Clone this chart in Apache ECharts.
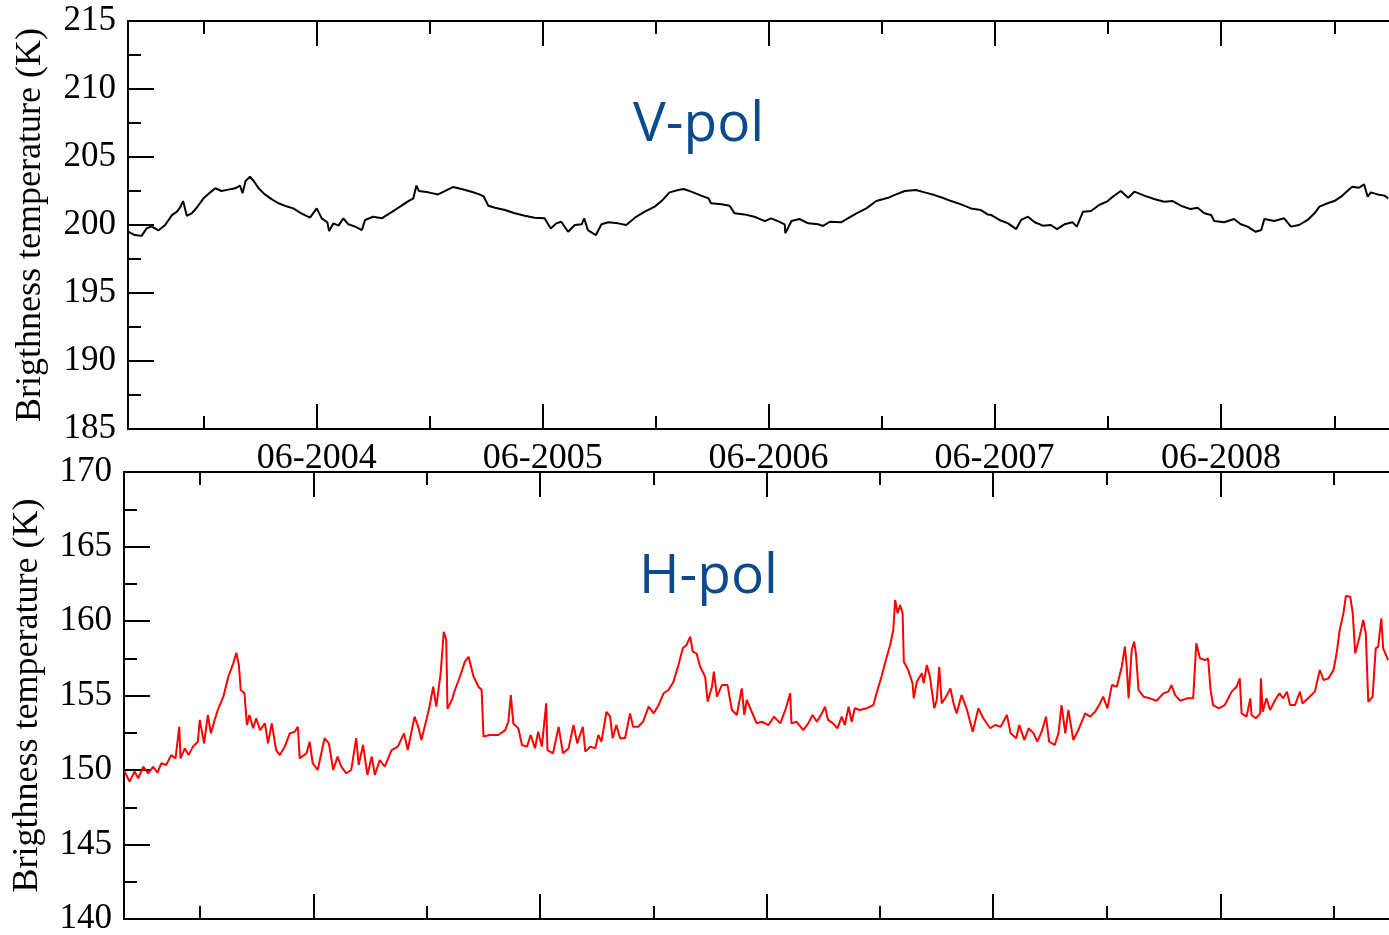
<!DOCTYPE html>
<html>
<head>
<meta charset="utf-8">
<title>Brightness temperature V-pol / H-pol</title>
<script src="https://cdn.jsdelivr.net/npm/echarts@6/dist/echarts.min.js"></script>
<style>
html, body { margin: 0; padding: 0; background: #fff; }
#chart { width: 1389px; height: 935px; }
</style>
</head>
<body>
<div id="chart"></div>
<script>
// x values are days counted from 2003-08-01 (left edge of both panels)
const startDate = Date.UTC(2003, 7, 1)
const endDate = Date.UTC(2009, 2, 1)

const majorTicks = ['2004-06', '2005-06', '2006-06', '2007-06', '2008-06']
const minorTicks = ['2003-12', '2004-12', '2005-12', '2006-12', '2007-12', '2008-12']

const yName = 'Brigthness temperature (K)'

// V-pol (top panel)
const vDays = [1, 11, 22, 30, 38, 49, 60, 71, 79, 84, 89, 95, 103, 111, 122, 133, 141, 151, 162, 173,
  181, 185, 190, 197, 204, 211, 221, 232, 243, 253, 267, 280, 294, 305, 313, 322, 325, 332, 340, 348,
  356, 367, 378, 383, 396, 410, 420, 431, 442, 453, 461, 466, 470, 485, 501, 515, 525, 539, 555, 568,
  575, 582, 593, 609, 625, 641, 657, 673, 683, 692, 700, 711, 722, 733, 737, 743, 756, 765, 776, 792,
  805, 819, 835, 851, 862, 875, 889, 898, 910, 926, 938, 942, 959, 972, 980, 996, 1012, 1029, 1039, 1050,
  1061, 1062, 1072, 1085, 1099, 1115, 1123, 1134, 1152, 1163, 1177, 1193, 1209, 1228, 1241, 1255, 1273, 1287, 1303, 1316,
  1330, 1346, 1362, 1378, 1389, 1395, 1408, 1422, 1435, 1443, 1454, 1465, 1478, 1491, 1501, 1513, 1526, 1533, 1543, 1556,
  1569, 1583, 1591, 1604, 1616, 1626, 1642, 1658, 1674, 1688, 1701, 1717, 1728, 1739, 1750, 1755, 1771, 1787, 1798, 1809,
  1822, 1831, 1836, 1852, 1868, 1879, 1892, 1906, 1917, 1925, 1938, 1949, 1960, 1970, 1978, 1989, 1997, 2003, 2008, 2019,
  2030, 2036]
const vTemp = [199.5, 199.26, 199.2, 199.75, 199.9, 199.6, 200.0, 200.73, 200.98, 201.27, 201.76, 200.68, 200.86, 201.27, 201.96, 202.4, 202.7, 202.5, 202.6, 202.7,
  202.9, 202.33, 203.23, 203.55, 203.18, 202.7, 202.25, 201.9, 201.6, 201.42, 201.22, 200.86, 200.54, 201.22, 200.49, 200.2, 199.56, 200.12, 199.95, 200.49,
  200.05, 199.88, 199.63, 200.37, 200.61, 200.49, 200.78, 201.1, 201.42, 201.76, 201.96, 202.9, 202.5, 202.4, 202.25, 202.57, 202.79, 202.65, 202.45, 202.25,
  202.08, 201.42, 201.27, 201.1, 200.86, 200.68, 200.54, 200.49, 199.75, 200.12, 200.24, 199.5, 200.0, 200.05, 200.49, 199.63, 199.26, 200.05, 200.2, 200.12,
  200.0, 200.54, 200.98, 201.35, 201.76, 202.4, 202.57, 202.65, 202.45, 202.16, 201.96, 201.6, 201.52, 201.42, 200.86, 200.78, 200.61, 200.29, 200.49, 200.29,
  200.05, 199.39, 200.29, 200.44, 200.12, 200.05, 199.93, 200.24, 200.2, 200.49, 200.86, 201.22, 201.76, 202.0, 202.25, 202.5, 202.57, 202.4, 202.2, 202.0,
  201.76, 201.52, 201.22, 201.1, 200.78, 200.73, 200.37, 200.12, 199.7, 200.37, 200.61, 200.2, 199.95, 200.0, 199.7, 200.05, 200.2, 199.88, 200.98, 201.03,
  201.47, 201.76, 202.08, 202.5, 202.0, 202.45, 202.16, 201.91, 201.71, 201.76, 201.42, 201.17, 201.27, 200.86, 200.73, 200.29, 200.2, 200.44, 200.05, 199.88,
  199.5, 199.63, 200.44, 200.29, 200.49, 199.88, 200.0, 200.37, 200.86, 201.35, 201.6, 201.76, 202.08, 202.5, 202.82, 202.74, 202.99, 202.08, 202.4, 202.25,
  202.16, 201.96]

// H-pol (bottom panel)
const hDays = [1, 9, 17, 23, 31, 39, 47, 54, 60, 68, 76, 83, 89, 91, 98, 104, 111, 119, 122, 129,
  135, 140, 146, 151, 160, 168, 176, 181, 185, 188, 194, 198, 202, 208, 213, 219, 227, 232, 238, 245,
  251, 259, 267, 275, 280, 283, 294, 299, 304, 312, 323, 330, 337, 344, 350, 358, 366, 374, 378, 385,
  392, 399, 404, 412, 420, 431, 441, 451, 457, 468, 474, 479, 487, 492, 498, 503, 510, 515, 519, 521,
  528, 533, 541, 549, 555, 563, 571, 576, 579, 589, 603, 614, 619, 623, 627, 635, 641, 649, 655, 662,
  667, 673, 680, 682, 691, 700, 707, 716, 724, 730, 739, 743, 751, 759, 764, 769, 777, 783, 787, 793,
  799, 807, 815, 820, 828, 836, 845, 853, 861, 869, 877, 885, 893, 900, 906, 912, 916, 922, 928, 936,
  940, 947, 950, 955, 963, 972, 979, 987, 995, 999, 1003, 1011, 1019, 1027, 1038, 1047, 1057, 1066, 1073, 1075,
  1083, 1094, 1102, 1109, 1116, 1124, 1129, 1134, 1142, 1149, 1156, 1161, 1167, 1172, 1177, 1185, 1196, 1207, 1212, 1220,
  1227, 1234, 1239, 1242, 1246, 1250, 1254, 1256, 1263, 1270, 1272, 1277, 1285, 1288, 1293, 1298, 1305, 1309, 1313, 1317,
  1324, 1331, 1336, 1341, 1349, 1357, 1367, 1376, 1384, 1395, 1403, 1412, 1422, 1428, 1437, 1442, 1450, 1457, 1465, 1471,
  1478, 1485, 1490, 1499, 1505, 1510, 1516, 1521, 1529, 1537, 1548, 1556, 1564, 1572, 1577, 1584, 1591, 1599, 1607, 1612,
  1615, 1618, 1623, 1627, 1630, 1634, 1642, 1652, 1663, 1674, 1682, 1687, 1693, 1701, 1712, 1722, 1727, 1733, 1741, 1746,
  1750, 1754, 1763, 1773, 1784, 1792, 1797, 1800, 1808, 1814, 1816, 1823, 1830, 1831, 1834, 1840, 1846, 1854, 1861, 1867,
  1873, 1878, 1886, 1894, 1898, 1907, 1918, 1926, 1932, 1940, 1948, 1953, 1958, 1964, 1968, 1975, 1979, 1983, 1990, 1996,
  2000, 2004, 2011, 2016, 2020, 2025, 2028, 2036]
const hTemp = [149.9, 149.22, 149.9, 149.44, 150.22, 149.78, 150.22, 149.82, 150.45, 150.34, 151.0, 150.78, 152.9, 150.78, 151.45, 151.0, 151.57, 151.9, 153.36, 151.79,
  153.69, 152.46, 153.36, 154.03, 154.92, 156.26, 157.16, 157.87, 157.05, 155.37, 155.15, 153.02, 153.69, 152.8, 153.47, 152.68, 153.13, 151.79, 153.13, 151.34,
  151.0, 151.57, 152.46, 152.57, 152.9, 150.78, 151.12, 151.9, 150.45, 150.0, 152.13, 151.79, 150.0, 150.9, 150.22, 149.78, 150.0, 152.13, 150.34, 151.68,
  149.67, 150.9, 149.67, 150.67, 150.22, 151.34, 151.57, 152.46, 151.34, 153.58, 152.9, 152.01, 153.36, 154.25, 155.59, 154.25, 156.49, 159.28, 158.72, 154.1,
  154.7, 155.37, 156.26, 157.27, 157.6, 156.26, 155.59, 155.37, 152.24, 152.35, 152.35, 152.68, 153.24, 155.03, 153.13, 152.8, 151.68, 151.57, 152.35, 151.45,
  152.57, 151.57, 154.47, 151.34, 151.12, 152.9, 151.12, 151.45, 153.02, 151.79, 152.9, 151.23, 151.57, 151.45, 152.35, 151.9, 153.91, 153.58, 152.13, 153.02,
  152.13, 152.13, 153.8, 152.9, 152.9, 153.24, 154.25, 153.8, 154.36, 155.15, 155.37, 155.93, 157.05, 158.17, 158.39, 158.95, 157.94, 157.83, 156.93, 156.26,
  154.59, 155.59, 156.6, 154.92, 155.7, 155.7, 154.03, 153.69, 155.48, 153.69, 154.7, 153.91, 153.13, 153.24, 153.02, 153.58, 153.13, 154.14, 155.15, 153.13,
  153.24, 152.68, 153.13, 153.69, 153.24, 153.8, 154.25, 153.36, 153.13, 152.8, 153.58, 153.02, 154.25, 153.24, 154.14, 154.03, 154.14, 154.36, 155.15, 156.26,
  157.38, 158.39, 159.4, 161.41, 160.52, 161.07, 160.52, 157.27, 156.71, 155.82, 154.81, 155.93, 156.49, 155.82, 157.05, 156.26, 154.14, 154.7, 156.93, 154.47,
  154.92, 155.48, 154.47, 153.8, 155.03, 154.14, 152.57, 154.14, 153.47, 152.8, 153.02, 152.9, 153.69, 152.46, 152.13, 153.02, 152.01, 152.8, 152.46, 151.9,
  152.57, 153.58, 151.9, 151.68, 152.46, 154.36, 152.46, 154.03, 152.01, 152.68, 153.8, 153.58, 153.91, 154.47, 154.92, 154.14, 155.7, 155.59, 156.93, 158.28,
  156.93, 154.81, 158.05, 158.61, 157.72, 155.37, 154.92, 154.81, 154.65, 155.14, 155.26, 155.7, 155.03, 154.65, 154.81, 154.81, 158.5, 157.49, 157.38, 157.49,
  155.37, 154.36, 154.14, 154.36, 155.26, 155.59, 156.15, 153.8, 153.58, 154.81, 153.69, 153.47, 153.8, 156.15, 153.91, 154.81, 154.03, 154.7, 155.14, 154.81,
  155.26, 154.36, 154.36, 155.26, 154.47, 154.81, 155.26, 156.71, 156.04, 156.15, 156.71, 157.83, 159.39, 160.51, 161.68, 161.63, 160.51, 157.83, 158.95, 160.07,
  159.17, 154.58, 154.92, 158.16, 158.28, 160.18, 158.16, 157.38]

const serif = '"Liberation Serif", "Times New Roman", serif'
const DAY = 86400000

function monthToDay(ym) {
  const [y, m] = ym.split('-').map(Number)
  return (Date.UTC(y, m - 1, 1) - startDate) / DAY
}

function dayLabel(value) {
  const d = new Date(startDate + value * DAY)
  return String(d.getUTCMonth() + 1).padStart(2, '0') + '-' + d.getUTCFullYear()
}

const xMax = (endDate - startDate) / DAY
const majorDays = majorTicks.map(monthToDay)
const minorDays = minorTicks.map(monthToDay)

const axisColor = '#000'

// four x axes per panel: long/short ticks, on bottom and top border
function panelXAxes(gridIndex, withLabels) {
  const base = {
    type: 'value',
    gridIndex,
    min: 0,
    max: xMax,
    splitLine: { show: false },
    axisLine: { show: true, lineStyle: { color: axisColor, width: 2 } }
  }
  const major = { inside: true, length: 25, customValues: majorDays, lineStyle: { color: axisColor, width: 2 } }
  const minor = { inside: true, length: 13, customValues: minorDays, lineStyle: { color: axisColor, width: 2 } }
  return [
    {
      ...base, position: 'bottom', axisTick: major,
      axisLabel: withLabels
        ? { customValues: majorDays, formatter: dayLabel, margin: 12, fontFamily: serif, fontSize: 36, color: '#000' }
        : { show: false }
    },
    { ...base, position: 'bottom', axisTick: minor, axisLabel: { show: false } },
    { ...base, position: 'top', axisTick: major, axisLabel: { show: false } },
    { ...base, position: 'top', axisTick: minor, axisLabel: { show: false } }
  ]
}

function panelYAxis(gridIndex, min, max, gap) {
  return {
    type: 'value',
    gridIndex,
    min,
    max,
    interval: 5,
    name: yName,
    nameLocation: 'middle',
    nameGap: gap,
    nameTextStyle: { fontFamily: serif, fontSize: 36, color: '#000' },
    axisLine: { show: true, lineStyle: { color: axisColor, width: 2 } },
    axisTick: { inside: true, length: 26, lineStyle: { color: axisColor, width: 2 } },
    minorTick: { show: true, splitNumber: 2, length: 13, lineStyle: { color: axisColor, width: 2 } },
    axisLabel: { margin: 12, fontFamily: serif, fontSize: 35, color: '#000' },
    splitLine: { show: false }
  }
}

function toPoints(days, temps) {
  return days.map((d, i) => [d, temps[i]])
}

const chart = echarts.init(document.getElementById('chart'), null, { renderer: 'canvas' })

chart.setOption({
  animation: false,
  backgroundColor: '#fff',
  grid: [
    { left: 128, right: -1, top: 21, height: 408, outerBoundsMode: 'none' },
    { left: 124, right: -1, top: 472, height: 447, outerBoundsMode: 'none' }
  ],
  xAxis: [...panelXAxes(0, true), ...panelXAxes(1, false)],
  yAxis: [panelYAxis(0, 185, 215, 79), panelYAxis(1, 140, 170, 78)],
  graphic: [
    {
      type: 'text', x: 633, y: 125,
      style: { text: 'V-pol', font: '55px "Open Sans", "Noto Sans", sans-serif', fill: '#0b4a8c', verticalAlign: 'middle' }
    },
    {
      type: 'text', x: 639, y: 577,
      style: { text: 'H-pol', font: '55px "Open Sans", "Noto Sans", sans-serif', fill: '#0b4a8c', verticalAlign: 'middle' }
    }
  ],
  series: [
    {
      name: 'V-pol',
      type: 'line',
      xAxisIndex: 0,
      yAxisIndex: 0,
      data: toPoints(vDays, vTemp),
      showSymbol: false,
      lineStyle: { color: '#000', width: 2 },
      itemStyle: { color: '#000' }
    },
    {
      name: 'H-pol',
      type: 'line',
      xAxisIndex: 4,
      yAxisIndex: 1,
      data: toPoints(hDays, hTemp),
      showSymbol: false,
      lineStyle: { color: '#ff0000', width: 2 },
      itemStyle: { color: '#ff0000' }
    }
  ]
})
</script>
</body>
</html>
